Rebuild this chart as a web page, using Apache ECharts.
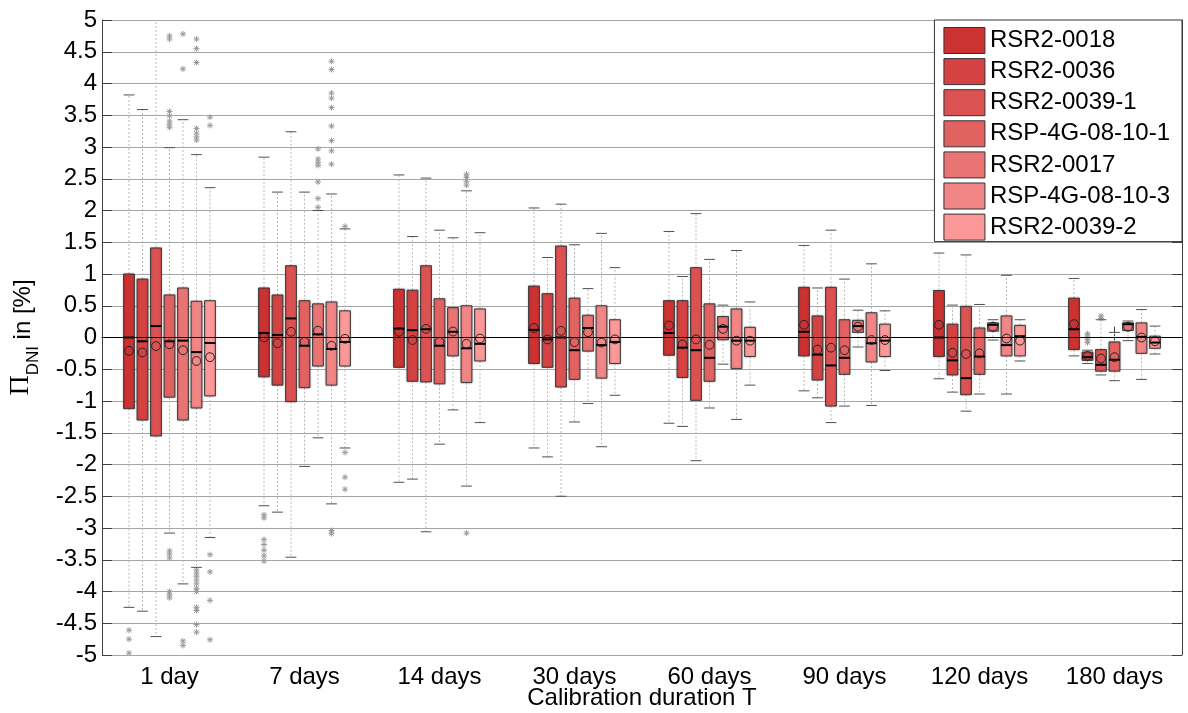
<!DOCTYPE html>
<html>
<head>
<meta charset="utf-8">
<script src="https://cdn.jsdelivr.net/npm/echarts@6/dist/echarts.min.js"></script>
<style>
html,body{margin:0;padding:0;background:#fff;}
#chart{width:1188px;height:713px;}
</style>
</head>
<body>
<div id="chart"></div>
<script>
const categories = ['1 day', '7 days', '14 days', '30 days', '60 days', '90 days', '120 days', '180 days'];
const sensorNames = ['RSR2-0018', 'RSR2-0036', 'RSR2-0039-1', 'RSP-4G-08-10-1', 'RSR2-0017', 'RSP-4G-08-10-3', 'RSR2-0039-2'];
const sensorColors = ['#cc3232', '#d44242', '#dc5252', '#e26262', '#ea7474', '#f28686', '#fc9898'];
const yTicks = { min: -5, max: 5, interval: 0.5 };

// per category: [whiskerLow, Q1, median, Q3, whiskerHigh, mean]
const statsRSR2_0018 = [
  [-4.25, -1.12, 0.00, 1.00, 3.82, -0.21],
  [-2.65, -0.62, 0.07, 0.78, 2.84, 0.00],
  [-2.28, -0.47, 0.14, 0.76, 2.56, 0.09],
  [-1.74, -0.41, 0.12, 0.81, 2.04, 0.15],
  [-1.35, -0.28, 0.07, 0.58, 1.67, 0.19],
  [-0.84, -0.29, 0.09, 0.79, 1.45, 0.20],
  [-0.65, -0.30, 0.00, 0.74, 1.33, 0.20],
  [-0.29, -0.19, 0.13, 0.62, 0.93, 0.21]
];
const statsRSR2_0036 = [
  [-4.31, -1.30, -0.06, 0.92, 3.59, -0.235],
  [-2.75, -0.75, 0.04, 0.67, 2.29, -0.09],
  [-2.23, -0.69, 0.115, 0.745, 1.59, -0.04],
  [-1.88, -0.47, -0.03, 0.69, 1.26, -0.03],
  [-1.40, -0.63, -0.16, 0.58, 0.96, -0.11],
  [-0.95, -0.67, -0.27, 0.34, 0.78, -0.19],
  [-0.86, -0.59, -0.36, 0.21, 0.51, -0.24],
  [-0.41, -0.36, -0.31, -0.23, -0.20, -0.29]
];
const statsRSR2_0039_1 = [
  [-4.71, -1.55, 0.18, 1.41, 5.30, -0.135],
  [-3.46, -1.01, 0.30, 1.13, 3.24, 0.09],
  [-3.06, -0.70, 0.13, 1.13, 2.51, 0.136],
  [-2.50, -0.78, 0.00, 1.44, 2.10, 0.105],
  [-1.94, -0.99, -0.20, 1.10, 1.95, -0.03],
  [-1.34, -1.08, -0.44, 0.79, 1.69, -0.16],
  [-1.16, -0.90, -0.64, 0.49, 1.30, -0.26],
  [-0.59, -0.53, -0.43, -0.19, 0.28, -0.33]
];
const statsRSP_4G_08_10_1 = [
  [-3.08, -0.94, -0.06, 0.67, 2.99, -0.107],
  [-2.03, -0.79, -0.13, 0.58, 2.29, -0.07],
  [-1.68, -0.73, -0.13, 0.61, 1.69, -0.07],
  [-1.33, -0.66, -0.20, 0.62, 1.46, -0.073],
  [-1.11, -0.69, -0.32, 0.53, 1.23, -0.115],
  [-1.08, -0.58, -0.32, 0.28, 0.92, -0.20],
  [-0.89, -0.58, -0.30, 0.15, 0.52, -0.25],
  [-0.68, -0.53, -0.35, -0.07, 0.08, -0.31]
];
const statsRSR2_0017 = [
  [-3.88, -1.30, -0.05, 0.78, 3.43, -0.20],
  [-1.58, -0.45, 0.05, 0.53, 2.00, 0.107],
  [-1.14, -0.29, 0.09, 0.47, 1.57, 0.094],
  [-1.04, -0.215, 0.15, 0.35, 0.77, 0.084],
  [-0.42, -0.035, 0.17, 0.33, 0.51, 0.136],
  [-0.15, 0.08, 0.18, 0.27, 0.43, 0.17],
  [-0.04, 0.10, 0.20, 0.23, 0.28, 0.17],
  [-0.05, 0.11, 0.21, 0.23, 0.26, 0.17]
];
const statsRSP_4G_08_10_3 = [
  [-3.62, -1.11, -0.23, 0.57, 2.88, -0.37],
  [-2.62, -0.75, -0.18, 0.56, 2.26, -0.13],
  [-2.34, -0.71, -0.17, 0.50, 2.31, -0.10],
  [-1.72, -0.64, -0.12, 0.50, 1.64, -0.08],
  [-1.29, -0.49, -0.05, 0.45, 1.37, -0.05],
  [-1.07, -0.385, -0.09, 0.39, 1.16, -0.04],
  [-0.89, -0.29, -0.12, 0.34, 0.98, -0.016],
  [-0.66, -0.25, 0.01, 0.23, 0.44, 0.00]
];
const statsRSR2_0039_2 = [
  [-3.15, -0.92, -0.086, 0.58, 2.36, -0.31],
  [-1.74, -0.45, -0.07, 0.42, 1.71, -0.02],
  [-1.34, -0.37, -0.10, 0.45, 1.65, -0.016],
  [-0.91, -0.41, -0.07, 0.28, 1.10, -0.03],
  [-0.75, -0.30, -0.05, 0.16, 0.56, -0.05],
  [-0.52, -0.30, -0.05, 0.21, 0.42, -0.04],
  [-0.37, -0.29, 0.02, 0.19, 0.28, -0.05],
  [-0.26, -0.17, -0.08, 0.02, 0.18, -0.06]
];

// outliers: [categoryIndex, value]
const outRSR2_0018 = [[0, -4.61], [0, -4.75], [0, -4.97], [1, -2.79], [1, -2.84], [1, -3.18], [1, -3.26], [1, -3.35], [1, -3.44], [1, -3.52]];
const outRSR2_0036 = [[7, 0.06], [7, 0.02], [7, -0.03], [7, -0.08]];
const outRSR2_0039_1 = [[7, 0.34], [7, 0.30]];
const outRSP_4G_08_10_1 = [[0, 4.75], [0, 4.70], [0, 3.56], [0, 3.49], [0, 3.41], [0, 3.36], [0, 3.31], [0, -3.36], [0, -3.41], [0, -3.47], [0, -4.00], [0, -4.05], [0, -4.10]];
const outRSR2_0017 = [[0, 4.78], [0, 4.23], [0, -4.78], [0, -4.85], [1, 2.97], [1, 2.81], [1, 2.76], [1, 2.71], [1, 2.45], [1, 2.19], [1, 2.05]];
const outRSP_4G_08_10_3 = [[0, 4.70], [0, 4.55], [0, 4.33], [0, 3.29], [0, 3.22], [0, 3.16], [0, 3.11], [0, -3.66], [0, -3.71], [0, -3.76], [0, -3.82], [0, -3.88], [0, -3.95], [0, -4.00], [0, -4.25], [0, -4.30], [0, -4.52], [0, -4.64],
  [1, 4.35], [1, 4.22], [1, 3.85], [1, 3.77], [1, 3.62], [1, 3.33], [1, 3.10], [1, 2.94], [1, 2.73], [1, -3.04], [1, -3.09],
  [2, 2.57], [2, 2.52], [2, 2.46], [2, 2.40], [2, -3.08]];
const outRSR2_0039_2 = [[0, 3.47], [0, 3.34], [0, -3.42], [0, -3.69], [0, -4.14], [0, -4.76], [1, 1.75], [1, -1.81], [1, -2.20], [1, -2.39]];

const allStats = [statsRSR2_0018, statsRSR2_0036, statsRSR2_0039_1, statsRSP_4G_08_10_1, statsRSR2_0017, statsRSP_4G_08_10_3, statsRSR2_0039_2];
const allOutliers = [outRSR2_0018, outRSR2_0036, outRSR2_0039_1, outRSP_4G_08_10_1, outRSR2_0017, outRSP_4G_08_10_3, outRSR2_0039_2];

const FONT = "'Liberation Sans', Arial, sans-serif";
const clampV = v => Math.max(yTicks.min, Math.min(yTicks.max, v));

function boxRender(sIdx) {
  return function (params, api) {
    const cat = api.value(0);
    const band = api.size([1, 0])[0];
    const cx = api.coord([cat, 0])[0] + (sIdx - 3) * band * 0.1;
    const w = band * 0.08;
    const y = v => api.coord([cat, clampV(v)])[1];
    const lo = api.value(1), q1 = api.value(2), med = api.value(3), q3 = api.value(4), hi = api.value(5), mean = api.value(6);
    const children = [];
    const dash = { stroke: '#b8b8b8', lineWidth: 1, lineDash: [2, 2] };
    children.push({ type: 'line', shape: { x1: cx, y1: y(q3), x2: cx, y2: y(hi) }, style: dash });
    children.push({ type: 'line', shape: { x1: cx, y1: y(q1), x2: cx, y2: y(lo) }, style: dash });
    const capStyle = { stroke: '#505050', lineWidth: 1 };
    if (hi <= yTicks.max) children.push({ type: 'line', shape: { x1: cx - w / 2, y1: y(hi), x2: cx + w / 2, y2: y(hi) }, style: capStyle });
    if (lo >= yTicks.min) children.push({ type: 'line', shape: { x1: cx - w / 2, y1: y(lo), x2: cx + w / 2, y2: y(lo) }, style: capStyle });
    const yTop = y(q3), yBot = y(q1);
    children.push({ type: 'rect', shape: { x: cx - w / 2, y: yTop, width: w, height: yBot - yTop },
      style: { fill: sensorColors[sIdx], stroke: '#3a3a3a', lineWidth: 1, shadowBlur: 2, shadowColor: 'rgba(0,0,0,0.25)' } });
    children.push({ type: 'line', shape: { x1: cx - w / 2, y1: y(med), x2: cx + w / 2, y2: y(med) }, style: { stroke: '#000', lineWidth: 2 } });
    children.push({ type: 'circle', shape: { cx: cx, cy: y(mean), r: 4.4 }, style: { fill: 'none', stroke: '#222', lineWidth: 1 } });
    return { type: 'group', children: children };
  };
}

function outlierRender(sIdx) {
  return function (params, api) {
    const cat = api.value(0);
    const band = api.size([1, 0])[0];
    const cx = api.coord([cat, 0])[0] + (sIdx - 3) * band * 0.1;
    const cy = api.coord([cat, api.value(1)])[1];
    const r = 3, d = 2.2;
    const st = { stroke: '#9a9a9a', lineWidth: 1 };
    return { type: 'group', children: [
      { type: 'line', shape: { x1: cx, y1: cy - r, x2: cx, y2: cy + r }, style: st },
      { type: 'line', shape: { x1: cx - r, y1: cy, x2: cx + r, y2: cy }, style: st },
      { type: 'line', shape: { x1: cx - d, y1: cy - d, x2: cx + d, y2: cy + d }, style: st },
      { type: 'line', shape: { x1: cx - d, y1: cy + d, x2: cx + d, y2: cy - d }, style: st }
    ] };
  };
}

const series = [];
sensorNames.forEach((name, i) => {
  series.push({
    type: 'custom',
    name: name,
    clip: true,
    itemStyle: { color: sensorColors[i], borderColor: '#333', borderWidth: 1 },
    data: allStats[i].map((s, c) => [c].concat(s)),
    encode: { x: 0, y: [1, 2, 3, 4, 5, 6] },
    renderItem: boxRender(i),
    z: 3
  });
});
sensorNames.forEach((name, i) => {
  series.push({
    type: 'custom',
    name: 'outliers-' + name,
    clip: true,
    data: allOutliers[i],
    encode: { x: 0, y: 1 },
    renderItem: outlierRender(i),
    z: 2
  });
});
series.push({
  type: 'line',
  name: 'zero',
  data: [],
  markLine: {
    silent: true, symbol: 'none', animation: false,
    label: { show: false },
    lineStyle: { color: '#000', width: 1, type: 'solid' },
    data: [{ yAxis: 0 }]
  },
  z: 4
});

const chart = echarts.init(document.getElementById('chart'), null, { renderer: 'canvas' });
chart.setOption({
  animation: false,
  backgroundColor: '#fff',
  textStyle: { fontFamily: FONT },
  grid: { left: 102, right: 6, top: 20, bottom: 58, containLabel: false, outerBoundsMode: 'none' },
  legend: {
    data: sensorNames,
    orient: 'vertical',
    right: 6, top: 20,
    padding: [7, 12, 1, 9],
    itemWidth: 41, itemHeight: 26, itemGap: 4.1,
    icon: 'rect',
    itemStyle: { borderColor: '#333', borderWidth: 1 },
    backgroundColor: '#fff', borderColor: '#333', borderWidth: 1, borderRadius: 0,
    textStyle: { fontFamily: FONT, fontSize: 24, color: '#000', padding: [0, 0, 0, 0] },
    selectedMode: false
  },
  xAxis: [{
    type: 'category', data: categories, position: 'bottom',
    boundaryGap: true,
    axisLine: { show: true, lineStyle: { color: '#404040', width: 1 } },
    axisTick: { show: true, inside: true, alignWithLabel: true, length: 11, lineStyle: { color: '#404040' } },
    axisLabel: { fontFamily: FONT, fontSize: 24, color: '#000', margin: 10 },
    splitLine: { show: false },
    name: 'Calibration duration T', nameLocation: 'middle', nameGap: 31, nameMoveOverlap: false,
    nameTextStyle: { fontFamily: FONT, fontSize: 24, color: '#000' }
  }, {
    type: 'category', data: categories, position: 'top',
    boundaryGap: true,
    axisLine: { show: true, lineStyle: { color: '#404040', width: 1 } },
    axisTick: { show: true, inside: true, alignWithLabel: true, length: 11, lineStyle: { color: '#404040' } },
    axisLabel: { show: false }
  }],
  yAxis: [{
    type: 'value', min: yTicks.min, max: yTicks.max, interval: yTicks.interval,
    axisLine: { show: true, lineStyle: { color: '#404040', width: 1 } },
    axisTick: { show: true, inside: true, length: 10, lineStyle: { color: '#404040' } },
    axisLabel: { fontFamily: FONT, fontSize: 24, color: '#000', margin: 5 },
    splitLine: { show: true, lineStyle: { color: '#a6a6a6', width: 1 } },
    name: '{pi|Π}{sub|DNI}{t| in [%]}',
    nameLocation: 'middle', nameGap: 60, nameMoveOverlap: false,
    nameTextStyle: {
      color: '#000',
      rich: {
        pi: { fontFamily: "'Liberation Serif', 'Times New Roman', serif", fontSize: 28, color: '#000', verticalAlign: 'bottom', padding: [0, 0, 7, 0] },
        sub: { fontFamily: FONT, fontSize: 17, color: '#000', verticalAlign: 'bottom' },
        t: { fontFamily: FONT, fontSize: 24, color: '#000', verticalAlign: 'bottom', padding: [0, 0, 7, 0] }
      }
    }
  }, {
    type: 'value', min: yTicks.min, max: yTicks.max, interval: yTicks.interval, position: 'right',
    axisLine: { show: true, lineStyle: { color: '#404040', width: 1 } },
    axisTick: { show: true, inside: true, length: 10, lineStyle: { color: '#404040' } },
    axisLabel: { show: false },
    splitLine: { show: false }
  }],
  series: series
});
</script>
</body>
</html>
